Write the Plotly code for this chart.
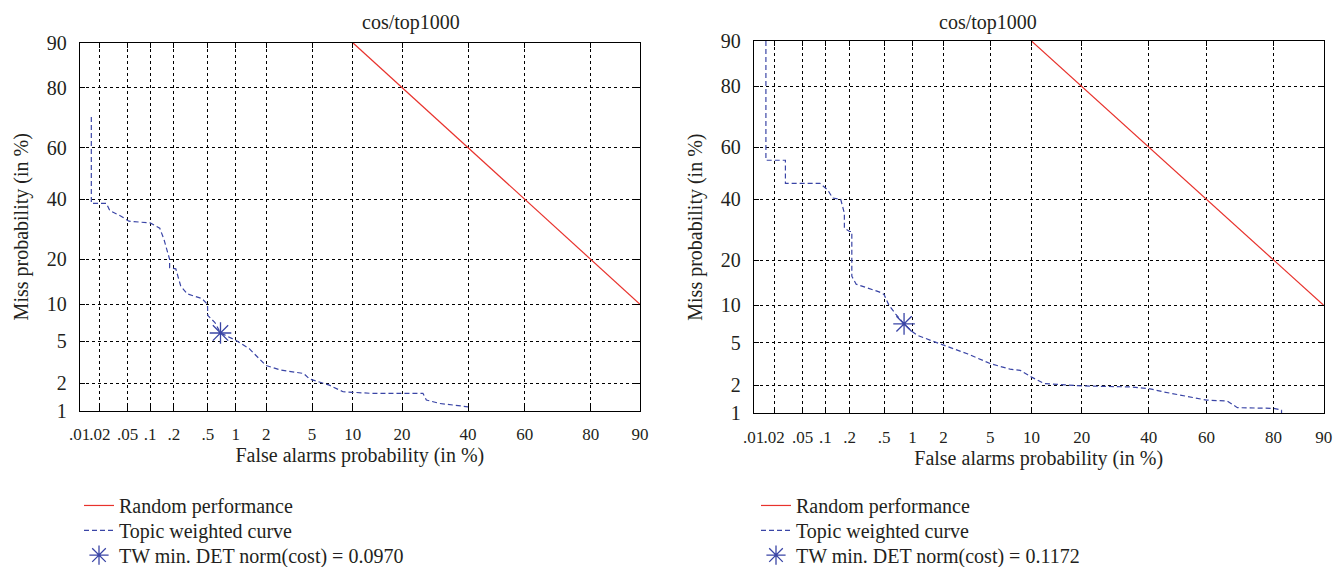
import math
import plotly.graph_objects as go

# ---------------- data ----------------
title_text = "cos/top1000"
x_tick_vals = [0.01, 0.02, 0.05, 0.1, 0.2, 0.5, 1, 2, 5, 10, 20, 40, 60, 80, 90]
x_tick_text = [".01", ".02", ".05", ".1", ".2", ".5", "1", "2", "5",
               "10", "20", "40", "60", "80", "90"]
y_tick_vals = [1, 2, 5, 10, 20, 40, 60, 80, 90]
y_tick_text = ["1", "2", "5", "10", "20", "40", "60", "80", "90"]

random_fa = [10, 90]
random_miss = [90, 10]

left_fa = [0.015, 0.015, 0.025, 0.028, 0.041, 0.052, 0.10, 0.133, 0.15, 0.177, 0.177, 0.211, 0.242,
           0.29, 0.43, 0.496, 0.50, 0.60, 0.69, 1.0, 1.37, 1.98, 2.72, 4.27, 4.77, 6.8, 8.56, 13.1,
           25.6, 26.6, 30.6, 40.0]
left_miss = [71, 38.5, 38.5, 35.8, 33.7, 32.0, 31.4, 29.6, 26.0, 20.0, 17.8, 17.5, 13.5,
             11.9, 11.0, 10.0, 8.2, 7.2, 5.9, 5.1, 4.3, 3.0, 2.7, 2.5, 2.2, 1.9, 1.62, 1.56,
             1.56, 1.32, 1.21, 1.11]
left_min_fa = [0.69]
left_min_miss = [5.9]
left_cost = "0.0970"

right_fa = [0.0152, 0.0152, 0.029, 0.029, 0.085, 0.107, 0.124, 0.156, 0.173, 0.173, 0.2, 0.213, 0.213,
            0.24, 0.312, 0.441, 0.5, 0.567, 0.67, 0.82, 1.0, 1.12, 1.56, 2.0, 3.25, 5.0, 7.08, 8.36,
            10.0, 12.1, 20.0, 33.9, 40.0, 45.0, 60.0, 66.8, 70.0, 80.0, 81.9, 81.9]
right_miss = [90, 55.0, 55.0, 46.1, 46.1, 43.6, 40.5, 40.0, 34.9, 29.7, 28.6, 28.6, 15.9,
              14.1, 13.4, 12.5, 12.0, 10.0, 8.6, 7.2, 6.2, 5.8, 5.2, 4.8, 4.0, 3.25, 2.87, 2.8,
              2.4, 2.07, 1.96, 1.91, 1.84, 1.70, 1.39, 1.36, 1.15, 1.13, 1.08, 1.0]
right_min_fa = [0.82]
right_min_miss = [7.2]
right_cost = "0.1172"


# ---------------- normal deviate scale ----------------
def probit(p_percent):
    q = p_percent / 100.0
    lo, hi = -10.0, 10.0
    for _ in range(80):
        mid = 0.5 * (lo + hi)
        if 0.5 * math.erfc(-mid / math.sqrt(2)) < q:
            lo = mid
        else:
            hi = mid
    return 0.5 * (lo + hi)


def P(vals):
    return [probit(v) for v in vals]


RED = "#e8322c"
BLUE = "#3a45a6"
FONT = "Liberation Serif"
TXT = "#231f20"
FS = 20
FS_XT = 17
W, H = 1342, 567

fig = go.Figure()

panels = [
    ("x", "y", 1, 71, left_fa, left_miss, left_min_fa, left_min_miss, left_cost),
    ("x2", "y2", 4, 748, right_fa, right_miss, right_min_fa, right_min_miss, right_cost),
]
legend_defs = {}
row_y = [501, 526, 551]
for xa, ya, lg0, lgx, fa, miss, mfa, mmiss, cost in panels:
    names = [f"legend{'' if lg0 == 1 else lg0}", f"legend{lg0 + 1}", f"legend{lg0 + 2}"]
    fig.add_trace(go.Scatter(x=P(random_fa), y=P(random_miss), mode="lines",
                             line=dict(color=RED, width=1.2), name="Random performance",
                             xaxis=xa, yaxis=ya, legend=names[0]))
    fig.add_trace(go.Scatter(x=P(fa), y=P(miss), mode="lines",
                             line=dict(color=BLUE, width=1.2, dash="5px,3px"),
                             name="Topic weighted curve", xaxis=xa, yaxis=ya, legend=names[1]))
    fig.add_trace(go.Scatter(x=P(mfa), y=P(mmiss), mode="markers",
                             marker=dict(symbol="asterisk-open", size=18, color=BLUE,
                                         line=dict(color=BLUE, width=1.3)),
                             name="TW min. DET norm(cost) = " + cost,
                             xaxis=xa, yaxis=ya, legend=names[2]))
    for nm, ry in zip(names, row_y):
        legend_defs[nm] = dict(x=lgx / W, y=1 - ry / H, xanchor="left", yanchor="middle",
                               bgcolor="rgba(0,0,0,0)", borderwidth=0,
                               font=dict(family=FONT, size=FS, color=TXT), itemwidth=30)

domains = {
    "left": dict(x=[71.7 / W, 632 / W], y=[1 - 405.7 / H, 1 - 35 / H]),
    "right": dict(x=[745.7 / W, 1315.7 / W], y=[1 - 408 / H, 1 - 33.3 / H]),
}

axis_common = dict(
    showline=True, linecolor="black", linewidth=1, mirror="ticks",
    ticks="inside", ticklen=5, tickcolor="black", automargin=False,
    showgrid=True, gridcolor="black", gridwidth=1, griddash="dot",
    zeroline=False,
)
xrange_ = [probit(x_tick_vals[0]), probit(x_tick_vals[-1])]
yrange_ = [probit(y_tick_vals[0]), probit(y_tick_vals[-1])]

xaxis_cfg = dict(axis_common, range=xrange_, tickmode="array", tickvals=P(x_tick_vals),
                 ticktext=x_tick_text, tickangle=0, ticklabelstandoff=8,
                 tickfont=dict(family=FONT, size=FS_XT, color=TXT),
                 title=dict(text="False alarms probability (in %)",
                            font=dict(family=FONT, size=FS, color=TXT), standoff=0))
yaxis_cfg = dict(axis_common, range=yrange_, tickmode="array", tickvals=P(y_tick_vals),
                 ticktext=y_tick_text, ticklabelstandoff=8,
                 tickfont=dict(family=FONT, size=FS, color=TXT),
                 title=dict(text="Miss probability (in %)",
                            font=dict(family=FONT, size=FS, color=TXT), standoff=12))

fig.update_layout(
    width=W, height=H,
    margin=dict(l=0, r=0, t=0, b=0),
    paper_bgcolor="white", plot_bgcolor="white",
    font=dict(family=FONT, color=TXT, size=FS),
    xaxis=dict(xaxis_cfg, domain=domains["left"]["x"], anchor="y"),
    yaxis=dict(yaxis_cfg, domain=domains["left"]["y"], anchor="x"),
    xaxis2=dict(xaxis_cfg, domain=domains["right"]["x"], anchor="y2"),
    yaxis2=dict(yaxis_cfg, domain=domains["right"]["y"], anchor="x2"),
    showlegend=True,
    annotations=[
        dict(text=title_text, x=(71.7 + 632) / 2 / W, y=1 - 15 / H, xref="paper", yref="paper",
             showarrow=False, font=dict(family=FONT, size=FS, color=TXT), yanchor="middle"),
        dict(text=title_text, x=(745.7 + 1315.7) / 2 / W, y=1 - 15 / H, xref="paper",
             yref="paper", showarrow=False, font=dict(family=FONT, size=FS, color=TXT),
             yanchor="middle"),
    ],
    **legend_defs,
)

fig.write_html("out.html")
